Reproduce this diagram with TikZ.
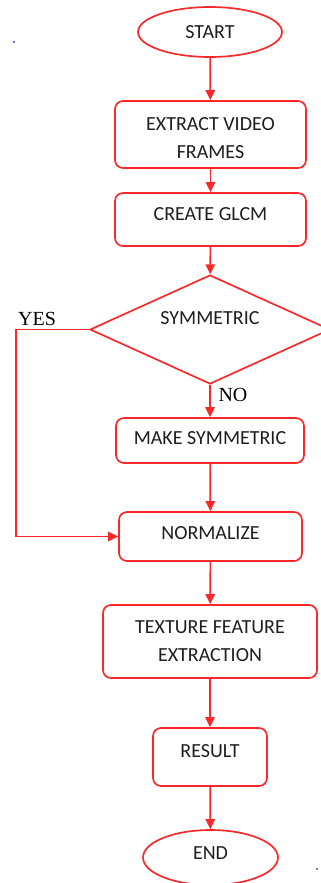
\documentclass[tikz,border=0pt]{standalone}
\usepackage{fontspec}
\setmainfont{Carlito}
\newfontfamily\lblfont{Liberation Serif}
\usetikzlibrary{shapes.geometric,arrows.meta}
\definecolor{fcred}{RGB}{250,40,40}
\definecolor{fctext}{RGB}{30,30,35}
\tikzset{
  flowline/.style={draw=fcred,line width=1.25pt},
  flowarrow/.style={flowline,-{Triangle[length=7.5pt,width=7pt]}},
  boxstyle/.style={draw=fcred,line width=1.25pt,rounded corners=6pt,fill=white,
    text=fctext,align=center,inner sep=0pt,font=\fontsize{15}{21}\selectfont},
  ovalstyle/.style={draw=fcred,line width=1.25pt,ellipse,fill=white,
    text=fctext,align=center,inner sep=0pt,font=\fontsize{15}{21}\selectfont},
  decstyle/.style={draw=fcred,line width=1.25pt,diamond,fill=white,inner sep=0pt},
  plaintext/.style={text=fctext,inner sep=0pt,font=\fontsize{15}{21}\selectfont},
  serifl/.style={text=black,inner sep=0pt,font=\lblfont\fontsize{15}{18}\selectfont}
}
\begin{document}
\begin{tikzpicture}[x=0.75pt,y=-0.75pt]
\clip (0,0) rectangle (321,883);
\fill[white] (0,0) rectangle (321,883);

\node[ovalstyle,minimum width=108pt,minimum height=37.5pt] (start) at (210,32) {START};
\node[boxstyle,minimum width=143.25pt,minimum height=50.25pt] (extract) at (210.5,134.5) {\rule{0pt}{15.5pt}EXTRACT VIDEO\\FRAMES};
\node[boxstyle,minimum width=143.25pt,minimum height=39.75pt] (glcm) at (210.5,219.5) {\raisebox{7.5pt}{CREATE GLCM}};
\node[decstyle,minimum width=180pt,minimum height=81.75pt] (dec) at (210,329.5) {};
\node[plaintext] (dectext) at (210,318) {SYMMETRIC};
\node[boxstyle,minimum width=141pt,minimum height=33.75pt] (make) at (210,440.5) {\raisebox{3.75pt}{MAKE SYMMETRIC}};
\node[boxstyle,minimum width=137.25pt,minimum height=36.75pt] (norm) at (210.5,536.5) {\raisebox{5.25pt}{NORMALIZE}};
\node[boxstyle,minimum width=160.5pt,minimum height=54.75pt] (texture) at (210,641.5) {TEXTURE FEATURE\\EXTRACTION};
\node[boxstyle,minimum width=85.5pt,minimum height=43.5pt] (result) at (210,757) {\raisebox{9pt}{RESULT}};
\node[ovalstyle,minimum width=101.25pt,minimum height=41.25pt] (end) at (210.5,857.5) {\raisebox{6.75pt}{END}};

\node[serifl] (yes) at (37,319) {YES};
\node[serifl] (no) at (233,395) {NO};

\coordinate (ycorner) at (16,329.5);

\draw[flowarrow] (start) -- (extract);
\draw[flowarrow] (extract) -- (glcm);
\draw[flowarrow] (glcm) -- (dec);
\draw[flowarrow] (dec.south) -- (make.north);
\draw[flowarrow] (make) -- (norm);
\draw[flowarrow] (norm) -- (texture);
\draw[flowarrow] (texture) -- (result);
\draw[flowarrow] (result) -- (end);
\draw[flowarrow] (dec.west) -- (ycorner) |- (norm.west);

\fill[blue!80] (14,42) circle (0.8pt);
\fill[black] (317,869) circle (0.7pt);
\end{tikzpicture}
\end{document}
